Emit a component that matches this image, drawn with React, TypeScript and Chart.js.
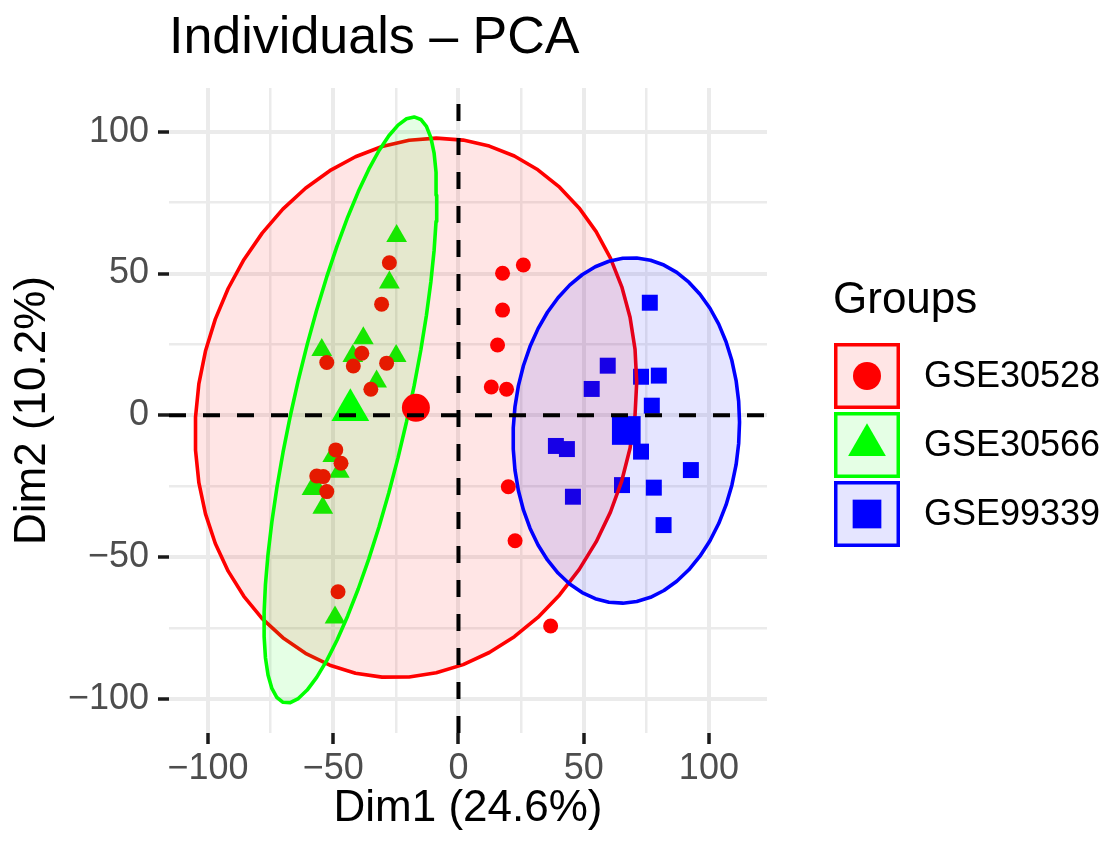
import React, { useEffect, useRef } from 'react';
import { Chart, registerables } from 'chart.js';

Chart.register(...registerables);

// ---------------- data ----------------
const groupNames = ['GSE30528', 'GSE30566', 'GSE99339'];
const groupColors = ['#FF0000', '#00FF00', '#0000FF'];
const groupFills = ['rgba(255,0,0,0.1)', 'rgba(0,255,0,0.1)', 'rgba(0,0,255,0.1)'];

const gse30528X = [-27.6, -30.7, -52.6, -42.0, -38.6, -28.7, -35.0, -49.0, -46.9, -56.6, -54.0, -52.6, -48.1, 25.9, 17.6, 17.6, 15.6, 13.1, 19.2, 19.9, 22.6, 36.8];
const gse30528Y = [53.8, 39.2, 18.6, 17.4, 21.9, 18.4, 9.2, -12.2, -16.9, -21.4, -21.6, -26.9, -62.2, 53.0, 50.1, 37.1, 24.8, 10.0, 9.2, -25.2, -44.2, -74.3];

const gse30566X = [-24.7, -27.6, -38.0, -54.6, -42.2, -24.9, -32.7, -50.2, -47.6, -58.5, -56.9, -54.2, -49.3];
const gse30566Y = [63.2, 46.8, 27.2, 23.0, 20.9, 20.9, 11.9, -14.3, -19.9, -26.0, -25.3, -32.6, -71.3];

const gse99339X = [76.4, 59.6, 72.9, 80.0, 53.2, 77.2, 38.9, 43.3, 72.9, 92.8, 65.3, 78.0, 45.7, 81.9];
const gse99339Y = [39.7, 17.5, 13.6, 14.0, 9.3, 3.4, -10.8, -11.9, -12.8, -19.3, -24.6, -25.5, -28.7, -38.7];

const xMajorTicks = [-100, -50, 0, 50, 100];
const xTickLabels = ['\u2212100', '\u221250', '0', '50', '100'];
const xMinorTicks = [-75, -25, 25, 75];
const yMajorTicks = [-100, -50, 0, 50, 100];
const yTickLabels = ['\u2212100', '\u221250', '0', '50', '100'];
const yMinorTicks = [-75, -25, 25, 75];

const xLimits = [-115.6, 123.2];
const yLimits = [-112.0, 115.4];

const chartTitle = 'Individuals \u2013 PCA';
const xTitle = 'Dim1 (24.6%)';
const yTitle = 'Dim2 (10.2%)';
const legendTitle = 'Groups';

// ---------------- helpers ----------------
const FONT = '"Liberation Sans", Arial, Helvetica, sans-serif';

function mean(a: number[]) {
  return a.reduce((s, v) => s + v, 0) / a.length;
}

// same construction as ggplot2::stat_ellipse(type = "norm", level = 0.95)
function ellipse(xs: number[], ys: number[], level = 0.95, segments = 51) {
  const n = xs.length;
  const mx = mean(xs);
  const my = mean(ys);
  let sxx = 0, syy = 0, sxy = 0;
  for (let i = 0; i < n; i++) {
    const dx = xs[i] - mx;
    const dy = ys[i] - my;
    sxx += dx * dx;
    syy += dy * dy;
    sxy += dx * dy;
  }
  sxx /= n - 1;
  syy /= n - 1;
  sxy /= n - 1;
  const dfd = n - 1;
  const q = (dfd / 2) * (Math.pow(1 - level, -2 / dfd) - 1); // qf(level, 2, dfd)
  const radius = Math.sqrt(2 * q);
  const r11 = Math.sqrt(sxx);
  const r12 = sxy / r11;
  const r22 = Math.sqrt(syy - r12 * r12);
  const pts: { x: number; y: number }[] = [];
  for (let i = 0; i <= segments; i++) {
    const a = (i * 2 * Math.PI) / segments;
    const c = Math.cos(a);
    const s = Math.sin(a);
    pts.push({ x: mx + radius * c * r11, y: my + radius * (c * r12 + s * r22) });
  }
  return pts;
}

function toPoints(xs: number[], ys: number[]) {
  return xs.map((x, i) => ({ x, y: ys[i] }));
}

const groupX = [gse30528X, gse30566X, gse99339X];
const groupY = [gse30528Y, gse30566Y, gse99339Y];
const pointStyles = ['circle', 'triangle', 'rect'];
const smallRadius = [7.5, 12, 11.3];
const bigRadius = [14, 21.8, 20.3];

function drawMarker(ctx: CanvasRenderingContext2D, style: string, x: number, y: number, r: number, color: string) {
  ctx.fillStyle = color;
  ctx.beginPath();
  if (style === 'circle') {
    ctx.arc(x, y, r, 0, Math.PI * 2);
  } else if (style === 'triangle') {
    let rad = 0;
    ctx.moveTo(x + Math.sin(rad) * r, y - Math.cos(rad) * r);
    rad += (2 * Math.PI) / 3;
    ctx.lineTo(x + Math.sin(rad) * r, y - Math.cos(rad) * r);
    rad += (2 * Math.PI) / 3;
    ctx.lineTo(x + Math.sin(rad) * r, y - Math.cos(rad) * r);
    ctx.closePath();
  } else {
    const s = Math.SQRT1_2 * r;
    ctx.rect(x - s, y - s, 2 * s, 2 * s);
  }
  ctx.fill();
}

const decorPlugin = {
  id: 'decor',
  afterDraw(chart: any) {
    const ctx: CanvasRenderingContext2D = chart.ctx;
    const area = chart.chartArea;
    ctx.save();
    // title
    ctx.fillStyle = '#000000';
    ctx.textAlign = 'left';
    ctx.textBaseline = 'alphabetic';
    ctx.font = `52px ${FONT}`;
    ctx.fillText(chartTitle, area.left, 53);
    // legend
    const lx = area.right + 67;
    ctx.font = `44px ${FONT}`;
    ctx.fillText(legendTitle, lx - 1, 313);
    ctx.font = `36px ${FONT}`;
    groupNames.forEach((name, i) => {
      const top = 343 + i * 69;
      const size = 66;
      ctx.fillStyle = '#FFFFFF';
      ctx.fillRect(lx, top, size, size);
      ctx.fillStyle = groupFills[i];
      ctx.fillRect(lx, top, size, size);
      ctx.strokeStyle = groupColors[i];
      ctx.lineWidth = 3.5;
      ctx.strokeRect(lx + 1.75, top + 1.75, size - 3.5, size - 3.5);
      drawMarker(ctx, pointStyles[i], lx + size / 2, top + size / 2, bigRadius[i], groupColors[i]);
      ctx.fillStyle = '#000000';
      ctx.textBaseline = 'middle';
      ctx.fillText(name, lx + 90, top + size / 2 + 1);
    });
    ctx.restore();
  },
};

function isIn(arr: number[], v: number) {
  return arr.some((a) => Math.abs(a - v) < 1e-9);
}

export default function App() {
  const canvasRef = useRef<HTMLCanvasElement | null>(null);

  useEffect(() => {
    if (!canvasRef.current) return;
    Chart.defaults.font.family = FONT;

    const datasets: any[] = [];
    // raw points (bottom)
    groupNames.forEach((name, i) => {
      datasets.push({
        type: 'scatter',
        label: name,
        data: toPoints(groupX[i], groupY[i]),
        pointStyle: pointStyles[i],
        pointRadius: smallRadius[i],
        pointBackgroundColor: groupColors[i],
        pointBorderWidth: 0,
        borderWidth: 0,
        order: 10,
      });
    });
    // ellipses
    groupNames.forEach((name, i) => {
      datasets.push({
        type: 'line',
        label: name + ' ellipse',
        data: ellipse(groupX[i], groupY[i]),
        borderColor: groupColors[i],
        backgroundColor: groupFills[i],
        borderWidth: 3.6,
        pointRadius: 0,
        tension: 0,
        fill: 'shape',
        borderCapStyle: 'round',
        borderJoinStyle: 'round',
        order: 8 - i,
      });
    });
    // group means
    groupNames.forEach((name, i) => {
      datasets.push({
        type: 'scatter',
        label: name + ' mean',
        data: [{ x: mean(groupX[i]), y: mean(groupY[i]) }],
        pointStyle: pointStyles[i],
        pointRadius: bigRadius[i],
        pointBackgroundColor: groupColors[i],
        pointBorderWidth: 0,
        borderWidth: 0,
        order: 2,
      });
    });
    // dashed axes
    datasets.push({
      type: 'line',
      label: 'h0',
      data: [{ x: xLimits[0], y: 0 }, { x: xLimits[1], y: 0 }],
      borderColor: '#000000',
      borderWidth: 4,
      borderDash: [17, 17],
      pointRadius: 0,
      fill: false,
      order: 0,
    });
    datasets.push({
      type: 'line',
      label: 'v0',
      data: [{ x: 0, y: yLimits[0] }, { x: 0, y: yLimits[1] }],
      borderColor: '#000000',
      borderWidth: 4,
      borderDash: [17, 17],
      pointRadius: 0,
      fill: false,
      order: 0,
    });

    const gridOpts = (major: number[]) => ({
      color: '#EBEBEB',
      lineWidth: (c: any) => (c.tick && isIn(major, c.tick.value) ? 4 : 2.5),
      drawTicks: true,
      tickLength: 11,
      tickWidth: 3.5,
      tickColor: (c: any) => (c.tick && isIn(major, c.tick.value) ? '#1A1A1A' : 'rgba(0,0,0,0)'),
    });

    const chart = new Chart(canvasRef.current, {
      type: 'scatter',
      data: { datasets },
      plugins: [decorPlugin],
      options: {
        animation: false,
        responsive: true,
        maintainAspectRatio: false,
        events: [],
        layout: { padding: { left: 0, top: 88, right: 339, bottom: 0 } },
        plugins: {
          legend: { display: false },
          tooltip: { enabled: false },
          title: { display: false },
        },
        scales: {
          x: {
            type: 'linear',
            min: xLimits[0],
            max: xLimits[1],
            afterBuildTicks: (scale: any) => {
              scale.ticks = [...xMajorTicks, ...xMinorTicks].sort((a, b) => a - b).map((v) => ({ value: v }));
            },
            afterFit: (scale: any) => {
              scale.height = 108;
            },
            border: { display: false },
            grid: gridOpts(xMajorTicks) as any,
            ticks: {
              autoSkip: false,
              maxRotation: 0,
              minRotation: 0,
              padding: 3,
              color: '#4D4D4D',
              font: { size: 36, family: FONT },
              callback: (v: any) => {
                const idx = xMajorTicks.findIndex((t) => Math.abs(t - Number(v)) < 1e-9);
                return idx >= 0 ? xTickLabels[idx] : '';
              },
            },
            title: {
              display: true,
              text: xTitle,
              color: '#000000',
              font: { size: 44, family: FONT },
              padding: { top: 0, bottom: 6 },
            },
          },
          y: {
            type: 'linear',
            min: yLimits[0],
            max: yLimits[1],
            afterBuildTicks: (scale: any) => {
              scale.ticks = [...yMajorTicks, ...yMinorTicks].sort((a, b) => a - b).map((v) => ({ value: v }));
            },
            afterFit: (scale: any) => {
              scale.width = 169;
            },
            border: { display: false },
            grid: gridOpts(yMajorTicks) as any,
            ticks: {
              autoSkip: false,
              padding: 9,
              color: '#4D4D4D',
              font: { size: 36, family: FONT },
              callback: (v: any) => {
                const idx = yMajorTicks.findIndex((t) => Math.abs(t - Number(v)) < 1e-9);
                return idx >= 0 ? yTickLabels[idx] : '';
              },
            },
            title: {
              display: true,
              text: yTitle,
              color: '#000000',
              font: { size: 44, family: FONT },
              padding: { top: 6, bottom: 0 },
            },
          },
        },
      } as any,
    });

    return () => {
      chart.destroy();
    };
  }, []);

  return (
    <div style={{ position: 'fixed', left: 0, top: 0, width: 1106, height: 841, background: '#FFFFFF' }}>
      <canvas ref={canvasRef} />
    </div>
  );
}
